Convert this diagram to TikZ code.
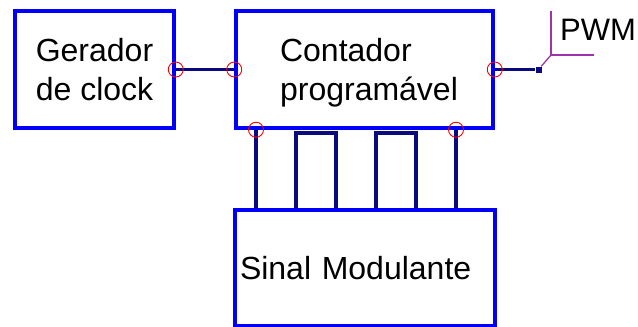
\documentclass[tikz,border=0pt]{standalone}
\usepackage{fontspec}
\setmainfont{Liberation Sans}
\usetikzlibrary{backgrounds}
\definecolor{boxblue}{RGB}{0,0,250}
\definecolor{wirenavy}{RGB}{10,10,128}
\definecolor{pwmviolet}{RGB}{160,50,170}
\newcommand{\blocktext}[1]{\hspace*{9pt}\raisebox{-4pt}[\height][\depth]{\begin{tabular}{@{}l@{}}#1\end{tabular}}}
\begin{document}
\begin{tikzpicture}[
    x=1pt, y=-1pt,
    block/.style={rectangle, draw=boxblue, line width=3.5pt, align=center,
        font=\fontsize{32}{38.5}\selectfont},
    wire/.style={draw=wirenavy, line width=3.5pt},
    port/.style={circle, draw=red, line width=0.9pt, minimum size=15pt, inner sep=0pt},
    term/.style={rectangle, fill=wirenavy, minimum size=6pt, inner sep=0pt}
]
    \useasboundingbox (0,0) rectangle (638,327);

    \node[block, minimum width=159pt, minimum height=117pt] (gerador) at (94.5,69.5) {Gerador\\de clock};
    \node[block, minimum width=257pt, minimum height=117pt] (contador) at (364.5,69.5) {\blocktext{Contador\\programável}};
    \node[block, minimum width=260pt, minimum height=116pt, text width=250pt, align=left] (sinal) at (365,268) {Sinal Modulante};
    \node[term] (saida) at (538.5,69.5) {};
    \coordinate (dobra) at (551,55);
    \node[anchor=base west, font=\fontsize{31}{36}\selectfont, inner sep=0pt] (pwm) at (560,40) {PWM};

    % ligacoes
    \begin{scope}[on background layer]
        \draw[wire] (gerador.east) -- (contador.west);
        \draw[wire] (contador.east) -- (saida);
        \foreach \x in {256,456}
            \draw[wire] (\x,0 |- contador.south) -- (\x,0 |- sinal.north);
        \foreach \x in {296,376}
            \draw[wire] (\x,0 |- sinal.north) -- ([yshift=-3pt]\x,0 |- contador.south) -- ++(40,0) -- (\x+40,0 |- sinal.north);
    \end{scope}
    \draw[pwmviolet, line width=1.3pt] (saida) -- (dobra);
    \draw[pwmviolet, line width=1.3pt] (dobra) -- ++(0,-44);
    \draw[pwmviolet, line width=1.3pt] (dobra) -- ++(43,0);

    % pinos
    \node[port] (p1) at (gerador.east) {};
    \node[port] (p2) at (contador.west) {};
    \node[port] (p3) at (contador.east) {};
    \node[port] (p4) at (256,0 |- contador.south) {};
    \node[port] (p5) at (456,0 |- contador.south) {};
\end{tikzpicture}
\end{document}
